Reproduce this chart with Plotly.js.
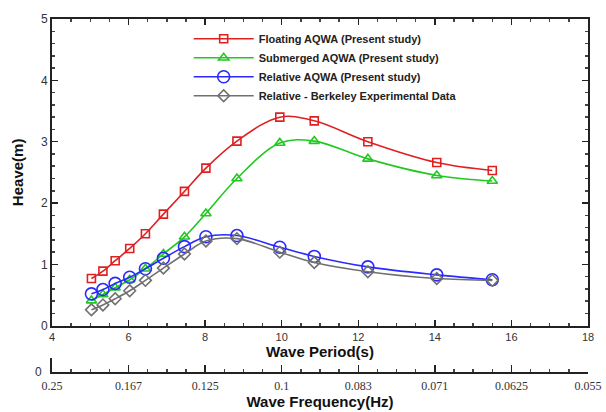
<!DOCTYPE html>
<html>
<head>
<meta charset="utf-8">
<script src="https://cdn.plot.ly/plotly-3.0.1.min.js"></script>
<style>html,body{margin:0;padding:0;background:#fff;}#chart{width:606px;height:412px;}</style>
</head>
<body>
<div id="chart"></div>
<script>
const period = [5.03, 5.33, 5.65, 6.03, 6.44, 6.91, 7.46, 8.02, 8.83, 9.95, 10.85, 12.25, 14.05, 15.5];
const floating = [0.77, 0.89, 1.06, 1.26, 1.50, 1.82, 2.19, 2.57, 3.01, 3.40, 3.34, 3.00, 2.66, 2.53];
const submerged = [0.41, 0.51, 0.62, 0.75, 0.93, 1.17, 1.45, 1.83, 2.40, 2.98, 3.01, 2.72, 2.45, 2.36];
const relative = [0.52, 0.59, 0.69, 0.79, 0.93, 1.10, 1.29, 1.45, 1.47, 1.28, 1.13, 0.96, 0.83, 0.75];
const berkeley = [0.26, 0.34, 0.44, 0.57, 0.74, 0.94, 1.17, 1.38, 1.42, 1.20, 1.03, 0.88, 0.77, 0.74];
const seriesNames = ["Floating AQWA (Present study)", "Submerged AQWA (Present study)", "Relative AQWA (Present study)", "Relative - Berkeley Experimental Data"];
const periodTicks = [4, 6, 8, 10, 12, 14, 16, 18];
const freqLabels = ["0.25", "0.167", "0.125", "0.1", "0.083", "0.071", "0.0625", "0.055"];

function tr(y, name, color, symbol, size) {
  return {
    x: period, y: y, name: name, type: "scatter", mode: "lines+markers",
    line: {color: color, width: 1.6, shape: "spline"},
    marker: {symbol: symbol, size: size, color: color, line: {color: color, width: 1.6}},
    xaxis: "x", yaxis: "y"
  };
}
const data = [
  tr(floating, seriesNames[0], "#e02020", "square-open", 8),
  tr(submerged, seriesNames[1], "#20c820", "triangle-up-open", 9),
  tr(relative, seriesNames[2], "#2a2aff", "circle-open", 12),
  tr(berkeley, seriesNames[3], "#707070", "diamond-open", 9),
  // empty helper trace so the frequency axis pair is drawn
  {x: [], y: [], type: "scatter", mode: "markers", xaxis: "x2", yaxis: "y2", showlegend: false, hoverinfo: "skip"}
];

const axisCommon = {
  showline: true, linecolor: "#222", linewidth: 2, showgrid: false, zeroline: false,
  ticks: "inside", ticklen: 6, tickwidth: 1.5, tickcolor: "#222"
};

const layout = {
  width: 606, height: 412,
  margin: {l: 52, r: 18, t: 19, b: 40},
  paper_bgcolor: "#fff", plot_bgcolor: "#fff",
  font: {family: "Arial, Liberation Sans, sans-serif", color: "#333", size: 12},
  showlegend: true,
  legend: {
    x: 0.255, y: 0.985, xanchor: "left", yanchor: "top",
    bgcolor: "rgba(0,0,0,0)", itemwidth: 60,
    font: {family: "Arial, Liberation Sans, sans-serif", size: 11, color: "#222", weight: "bold"}
  },
  xaxis: Object.assign({}, axisCommon, {
    domain: [0, 1], range: [4, 18], anchor: "y", mirror: "ticks",
    tickvals: periodTicks, tickfont: {size: 11, color: "#333"},
    minor: {dtick: 0.5, ticks: "inside", ticklen: 3, tickcolor: "#444"},
    title: {text: "<b>Wave Period(s)</b>", font: {size: 15, color: "#111"}, standoff: 4}
  }),
  yaxis: Object.assign({}, axisCommon, {
    domain: [0.131, 1], range: [0, 5], anchor: "x", mirror: "ticks", dtick: 1,
    tickfont: {size: 12, color: "#333"},
    minor: {dtick: 0.2, ticks: "inside", ticklen: 3, tickcolor: "#444"},
    title: {text: "<b>Heave(m)</b>", font: {size: 15, color: "#111"}, standoff: 14}
  }),
  xaxis2: Object.assign({}, axisCommon, {
    domain: [0, 1], range: [4, 18], anchor: "y2",
    tickvals: periodTicks, ticktext: freqLabels, ticklen: 7, ticklabelstandoff: 2,
    tickfont: {family: "Liberation Serif, Times New Roman, serif", size: 12, color: "#333"},
    minor: {dtick: 0.5, ticks: "inside", ticklen: 3, tickcolor: "#444"},
    title: {text: "<b>Wave Frequency(Hz)</b>", font: {size: 15, color: "#111"}, standoff: 4}
  }),
  yaxis2: Object.assign({}, axisCommon, {
    domain: [0, 0.04], range: [0, 1], anchor: "x2",
    tickvals: [0], ticktext: ["0"], ticks: "", ticklabelstandoff: 6,
    tickfont: {size: 12, color: "#333"}
  })
};

Plotly.newPlot("chart", data, layout, {displayModeBar: false, staticPlot: true});
</script>
</body>
</html>
